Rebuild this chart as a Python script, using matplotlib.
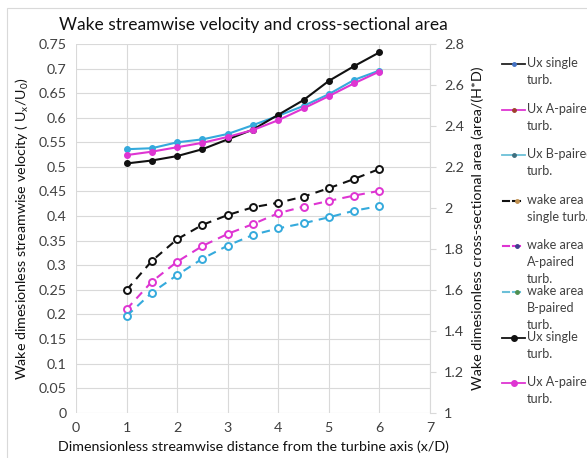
import matplotlib
matplotlib.use('Agg')
from matplotlib import pyplot as plt
from matplotlib.lines import Line2D
from matplotlib.patches import Rectangle

plt.rcParams['font.family'] = ['Lato', 'DejaVu Sans']

# streamwise positions (x/D)
x_d = [1, 1.5, 2, 2.5, 3, 3.5, 4, 4.5, 5, 5.5, 6]

# dimensionless streamwise velocity Ux/U0
ux_single = [0.507, 0.513, 0.522, 0.536, 0.556, 0.576, 0.606, 0.636, 0.675, 0.705, 0.733]
ux_a_paired = [0.524, 0.531, 0.540, 0.549, 0.561, 0.575, 0.595, 0.619, 0.644, 0.670, 0.694]
ux_b_paired = [0.536, 0.538, 0.550, 0.556, 0.567, 0.585, 0.604, 0.624, 0.648, 0.677, 0.696]

# dimensionless wake cross-sectional area, area/(H*D)
area_single = [1.599, 1.741, 1.847, 1.917, 1.965, 2.003, 2.025, 2.055, 2.096, 2.141, 2.190]
area_a_paired = [1.505, 1.640, 1.737, 1.814, 1.873, 1.921, 1.974, 2.006, 2.034, 2.060, 2.083]
area_b_paired = [1.472, 1.586, 1.672, 1.752, 1.816, 1.868, 1.900, 1.925, 1.954, 1.986, 2.009]

legend_labels = ['Ux single\nturb.', 'Ux A-paired\nturb.', 'Ux B-paired\nturb.',
                 'wake area\nsingle turb.', 'wake area\nA-paired\nturb.',
                 'wake area\nB-paired\nturb.', 'Ux single\nturb.', 'Ux A-paired\nturb.']

BLACK = '#111111'
MAGENTA = '#de35d2'
CYAN = '#35aadc'
GRID = '#d9d9d9'
TXT = '#404040'
FS = 10.3

W, H = 587, 458
fig = plt.figure(figsize=(W / 100, H / 100), dpi=100)
fig.add_artist(Rectangle((7 / W, -0.1), 1.2, 1.1 - 8 / H, transform=fig.transFigure,
                         fill=False, edgecolor=GRID, linewidth=0.8))

ax = fig.add_axes([76 / W, 1 - 412.7 / H, 354 / W, 368.7 / H])
ax2 = ax.twinx()

ax.plot(x_d, ux_single, '-o', color=BLACK, ms=4, lw=1.5, zorder=3)
ax.plot(x_d, ux_a_paired, '-o', color=MAGENTA, ms=4, lw=1.5, zorder=3)
ax.plot(x_d, ux_b_paired, '-o', color=CYAN, ms=4, lw=1.5, zorder=2)

for vals, c in [(area_single, BLACK), (area_a_paired, MAGENTA), (area_b_paired, CYAN)]:
    ax2.plot(x_d, vals, '--o', color=c, ms=5, lw=1.5, mfc='white', mew=1.4,
             dashes=(4, 3))

ax.set_xlim(0, 7)
ax.set_ylim(0, 0.75)
ax.set_xticks(range(8))
ax.set_yticks([i * 0.05 for i in range(16)])
ax.set_yticklabels(['0'] + ['%g' % round(i * 0.05, 2) for i in range(1, 16)])
ax2.set_ylim(1, 2.8)
ax2.set_yticks([1 + i * 0.2 for i in range(10)])
ax2.set_yticklabels(['%g' % round(1 + i * 0.2, 1) for i in range(10)])

ax.grid(True, color=GRID, lw=0.8)
ax.set_axisbelow(True)
for a in (ax, ax2):
    for s in a.spines.values():
        s.set_visible(False)
ax2.spines['right'].set_visible(True)
ax2.spines['right'].set_color(GRID)

ax.tick_params(axis='both', length=0, labelsize=FS, labelcolor=TXT, pad=7)
ax2.tick_params(axis='y', length=4, color=GRID, labelsize=FS, labelcolor=TXT, pad=6)

ax.set_title('Wake streamwise velocity and cross-sectional area', fontsize=12.5,
             color=BLACK, pad=10)
ax.set_xlabel('Dimensionless streamwise distance from the turbine axis (x/D)',
              fontsize=FS, color=BLACK, labelpad=4)
ax.set_ylabel(r'Wake dimesionless streamwise velocity ( U$_\mathregular{x}$/U$_\mathregular{0}$)',
              fontsize=FS, color=BLACK, labelpad=5)
ax2.set_ylabel('Wake dimesionless cross-sectional area (area/(H*D)',
               fontsize=FS, color=BLACK, labelpad=5)

# legend keys: (line colour, line style, marker colour, marker size)
keys = [
    ('#222222', '-', '#4472c4', 2.5),
    (MAGENTA, '-', '#a0402d', 2.5),
    ('#6cc0d8', '-', '#3f6f7f', 2.5),
    (BLACK, '--', '#c09050', 2.5),
    (MAGENTA, '--', '#3f3f8f', 2.5),
    ('#6cc0d8', '--', '#4f8f4f', 2.5),
    (BLACK, '-', BLACK, 4),
    (MAGENTA, '-', MAGENTA, 4),
]

# hand-laid legend, evenly spaced rows with the key on the first text line
y_first, row_step = 64, 45.6
for i, ((lc, ls, mc, ms), label) in enumerate(zip(keys, legend_labels)):
    y = 1 - (y_first + i * row_step) / H
    if ls == '-':
        fig.add_artist(Line2D([502 / W, 525 / W], [y, y], color=lc, lw=1.3,
                              transform=fig.transFigure))
        fig.add_artist(Line2D([514 / W], [y], marker='o', ms=ms, color=mc,
                              transform=fig.transFigure))
    else:
        fig.add_artist(Line2D([503 / W, 509 / W], [y, y], color=lc, lw=1.5,
                              transform=fig.transFigure))
        fig.add_artist(Line2D([513 / W, 520 / W], [y, y], color=lc, lw=1.5,
                              transform=fig.transFigure))
        fig.add_artist(Line2D([517 / W], [y], marker='o', ms=ms, color=mc,
                              transform=fig.transFigure))
    fig.text(527 / W, y + 7 / H, label, fontsize=9.1, color=TXT, ha='left', va='top',
             linespacing=1.5)

fig.savefig('out.png', dpi=100)
